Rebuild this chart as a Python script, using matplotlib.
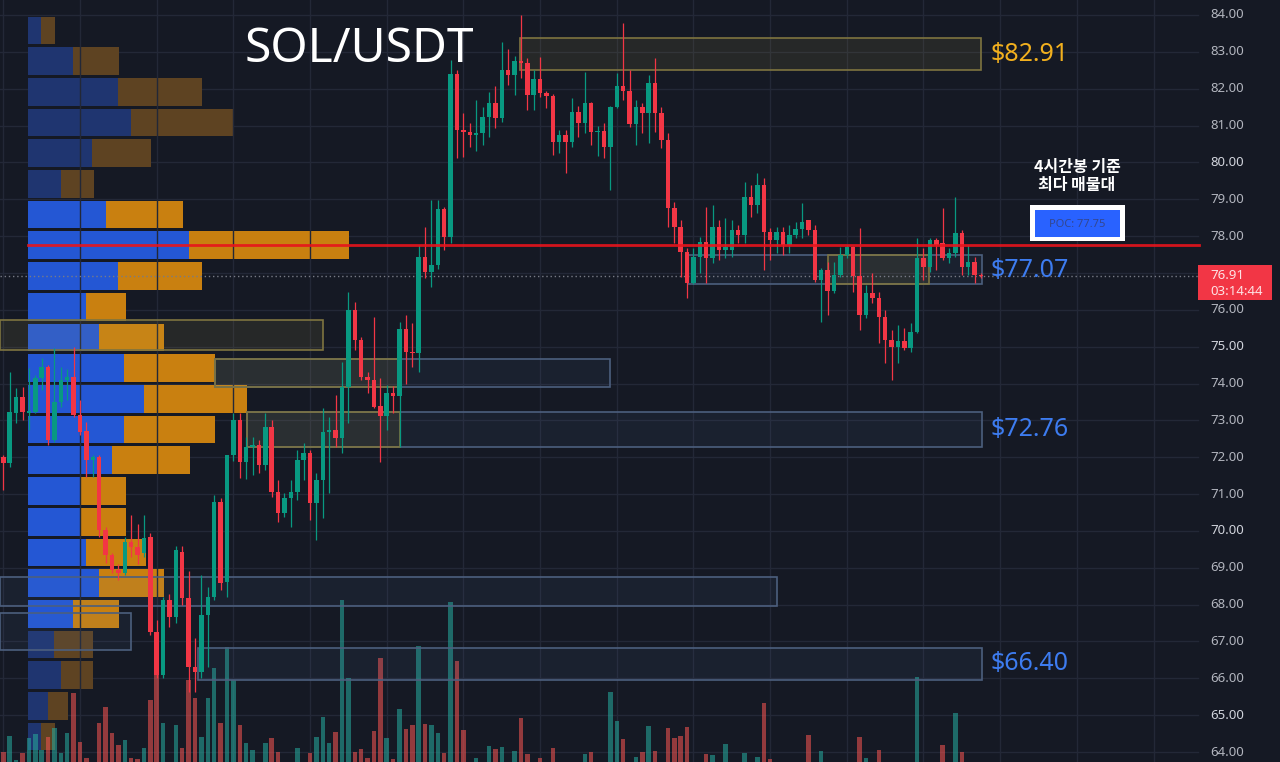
import matplotlib.pyplot as plt
from matplotlib.patches import Rectangle
from matplotlib.transforms import blended_transform_factory

# ---- candles (4h), left to right ----
opens = [72.00, 71.84, 73.20, 73.63, 73.20, 73.23, 74.15, 74.45, 72.47, 73.50,
         74.10, 74.18, 73.15, 72.70, 71.92, 72.00, 70.02, 69.35, 68.94, 68.86,
         69.70, 69.56, 69.40, 69.83, 67.26, 66.09, 68.13, 67.66, 69.43, 68.18,
         66.30, 66.17, 67.72, 68.20, 70.78, 68.60, 72.06, 73.00, 71.87, 72.28,
         72.33, 71.79, 72.82, 71.06, 70.49, 70.90, 71.05, 71.92, 72.11, 70.76,
         71.38, 72.68, 72.75, 72.52, 73.90, 76.00, 75.18, 74.18, 74.10, 73.38,
         73.12, 73.74, 73.65, 75.48, 74.85, 74.82, 77.43, 77.03, 77.22, 78.74,
         77.98, 82.40, 80.88, 80.82, 80.74, 80.80, 81.23, 81.61, 81.20, 82.50,
         82.37, 82.75, 82.70, 81.83, 82.26, 81.88, 81.80, 80.55, 80.74, 80.55,
         81.37, 81.07, 81.61, 80.82, 80.85, 80.42, 81.50, 82.07, 81.94, 81.04,
         81.50, 81.34, 82.15, 81.34, 80.61, 78.76, 78.25, 77.57, 76.73, 77.43,
         77.84, 77.41, 78.25, 77.62, 77.62, 78.17, 78.03, 79.06, 78.84, 79.39,
         78.11, 77.90, 78.11, 77.76, 78.03, 78.20, 78.43, 78.17, 76.81, 77.08,
         76.51, 76.94, 77.49, 77.70, 76.92, 75.86, 76.46, 76.32, 75.80, 75.18,
         74.99, 75.15, 74.96, 75.40, 77.41, 77.16, 77.90, 77.80, 77.41, 77.54,
         78.08, 77.16, 77.30, 76.94]
highs = [72.06, 74.31, 73.88, 73.90, 74.42, 74.23, 74.69, 74.50, 74.96, 74.45,
         74.40, 75.00, 73.55, 72.95, 72.06, 72.06, 70.10, 69.40, 69.10, 69.83,
         70.43, 70.20, 70.43, 69.94, 67.58, 68.20, 68.30, 69.60, 69.60, 68.90,
         67.10, 68.80, 68.48, 70.97, 70.90, 72.06, 73.20, 73.20, 72.55, 72.55,
         72.47, 73.20, 73.00, 71.38, 71.03, 71.38, 72.20, 72.38, 72.20, 71.57,
         73.33, 73.10, 73.69, 74.58, 76.48, 76.20, 75.26, 74.30, 75.80, 74.15,
         73.96, 73.93, 75.67, 75.86, 75.64, 77.75, 78.25, 78.98, 78.98, 78.80,
         82.78, 82.50, 81.34, 81.07, 81.69, 81.50, 81.91, 82.07, 83.27, 83.08,
         82.89, 84.00, 82.83, 82.50, 82.86, 81.95, 81.85, 80.88, 80.88, 81.75,
         81.53, 82.45, 81.64, 81.00, 81.07, 81.53, 82.43, 83.78, 82.50, 81.69,
         81.61, 82.37, 82.83, 81.50, 80.80, 78.93, 78.44, 77.68, 77.68, 77.98,
         78.79, 78.84, 78.44, 78.49, 78.44, 78.30, 79.47, 79.39, 79.71, 79.58,
         78.22, 78.25, 78.25, 78.30, 78.38, 78.90, 78.44, 78.30, 77.13, 77.30,
         77.30, 77.70, 77.76, 77.72, 78.22, 76.67, 77.00, 76.48, 75.99, 75.45,
         75.59, 75.50, 75.64, 77.95, 77.68, 77.95, 77.95, 78.76, 77.68, 79.06,
         78.17, 77.76, 77.43, 77.00]
lows = [71.10, 71.73, 72.93, 73.00, 72.74, 73.20, 73.82, 72.33, 72.40, 73.36,
        73.55, 73.10, 72.60, 71.46, 71.46, 69.83, 69.13, 68.86, 68.67, 68.80,
        69.30, 69.10, 69.30, 67.18, 66.00, 66.00, 67.40, 67.50, 68.00, 65.63,
        65.63, 66.00, 66.30, 68.12, 68.40, 68.20, 71.90, 71.44, 71.40, 71.52,
        71.57, 71.65, 70.92, 70.24, 70.38, 70.10, 70.84, 71.38, 70.30, 69.75,
        70.35, 71.03, 72.28, 72.11, 72.93, 74.90, 74.10, 73.74, 73.33, 71.87,
        72.74, 73.20, 72.28, 74.00, 74.45, 74.30, 76.86, 76.62, 77.10, 77.62,
        77.80, 80.12, 80.15, 80.42, 80.30, 80.47, 80.69, 80.93, 81.10, 82.10,
        81.83, 82.29, 81.42, 81.42, 81.77, 81.47, 80.20, 80.25, 79.71, 80.42,
        80.69, 80.80, 80.47, 80.17, 80.12, 79.25, 81.48, 81.69, 80.96, 80.47,
        80.80, 80.53, 80.82, 80.39, 78.25, 77.81, 76.89, 76.32, 76.70, 77.00,
        76.73, 77.27, 77.35, 77.41, 77.43, 77.81, 77.81, 78.52, 78.63, 77.08,
        77.35, 77.54, 77.49, 77.54, 77.95, 77.95, 78.03, 76.76, 75.67, 75.86,
        76.46, 76.89, 77.41, 76.48, 75.45, 75.78, 76.18, 75.10, 74.56, 74.10,
        74.56, 74.91, 74.85, 75.37, 76.81, 77.03, 77.08, 77.35, 77.27, 77.43,
        76.94, 76.94, 76.73, 76.86]
closes = [71.84, 73.23, 73.63, 73.23, 73.26, 74.15, 74.45, 72.47, 73.50, 74.10,
          74.18, 73.15, 72.68, 71.92, 72.00, 70.02, 69.35, 68.94, 68.86, 69.70,
          69.56, 69.35, 69.80, 67.26, 66.09, 68.13, 67.66, 69.48, 68.18, 66.30,
          66.17, 67.72, 68.20, 70.78, 68.59, 72.06, 73.00, 71.87, 72.28, 72.33,
          71.79, 72.82, 71.06, 70.49, 70.90, 71.05, 71.92, 72.11, 70.76, 71.38,
          72.68, 72.75, 72.52, 73.90, 76.00, 75.18, 74.18, 74.10, 73.36, 73.12,
          73.74, 73.65, 75.48, 74.85, 74.82, 77.43, 77.03, 77.22, 78.74, 77.98,
          82.40, 80.88, 80.82, 80.74, 80.80, 81.23, 81.61, 81.20, 82.50, 82.37,
          82.75, 82.70, 81.83, 82.26, 81.88, 81.80, 80.55, 80.74, 80.55, 81.37,
          81.07, 81.61, 80.82, 80.85, 80.42, 81.50, 82.07, 81.94, 81.04, 81.50,
          81.34, 82.15, 81.34, 80.61, 78.76, 78.25, 77.57, 76.73, 77.43, 77.84,
          77.41, 78.25, 77.62, 77.70, 78.17, 78.03, 79.06, 78.84, 79.39, 78.11,
          77.90, 78.11, 77.76, 78.03, 78.20, 78.38, 78.17, 76.81, 77.08, 76.51,
          76.94, 77.49, 77.70, 76.92, 75.86, 76.46, 76.32, 75.80, 75.18, 74.99,
          75.15, 74.96, 75.40, 77.41, 77.16, 77.90, 77.76, 77.41, 77.54, 78.08,
          77.16, 77.30, 76.94, 76.91]
# volume (arbitrary units, values under 40 fall below the visible area)
volumes = [50, 66, 42, 49, 64, 68, 52, 65, 74, 49,
           69, 109, 60, 44, 30, 79, 95, 69, 57, 62,
           44, 43, 54, 102, 127, 79, 30, 77, 54, 122,
           104, 65, 104, 134, 79, 155, 122, 77, 59, 52,
           30, 59, 64, 50, 30, 38, 54, 38, 49, 65,
           85, 59, 70, 202, 124, 50, 53, 44, 71, 144,
           64, 43, 93, 73, 77, 156, 78, 77, 69, 49,
           200, 141, 72, 30, 44, 40, 56, 53, 55, 40,
           51, 84, 48, 40, 44, 30, 54, 30, 40, 40,
           30, 48, 50, 30, 30, 110, 81, 63, 30, 45,
           50, 76, 51, 30, 74, 64, 66, 75, 40, 30,
           48, 47, 30, 58, 30, 30, 49, 30, 45, 99,
           43, 30, 30, 30, 30, 30, 67, 30, 51, 30,
           30, 30, 30, 30, 65, 44, 30, 52, 30, 30,
           30, 30, 30, 125, 30, 30, 30, 57, 30, 89,
           50, 30, 30, 30]

# ---- volume profile, 24 rows from top (84) down to bottom (64) ----
prof_buy = [13, 45, 90, 103, 64, 33, 78, 161, 90, 58, 71, 96,
            116, 96, 84, 52, 52, 58, 71, 45, 26, 33, 20, 13]
prof_sell = [14, 46, 84, 103, 59, 33, 77, 160, 84, 40, 65, 91,
             103, 91, 78, 46, 46, 60, 65, 46, 39, 32, 20, 14]
value_area = (6, 19)  # rows inside the value area

price_ticks = list(range(64, 85))
poc = 77.75
last_price = 76.91
countdown = '03:14:44'

# zones: (start candle, end candle, low, high, kind)
zones = [(80.9, 153.0, 82.51, 83.38, 'y'),
         (107.2, 153.2, 76.70, 77.49, 'b'),
         (129.1, 144.9, 76.70, 77.49, 'y'),
         (-0.5, 50.1, 74.91, 75.72, 'y'),
         (33.2, 95.0, 73.91, 74.67, 'b'),
         (33.2, 61.7, 73.91, 74.67, 'y'),
         (38.2, 153.1, 72.28, 73.23, 'b'),
         (38.2, 62.1, 72.28, 73.23, 'y'),
         (-0.5, 121.1, 67.96, 68.75, 'b'),
         (-0.5, 20.0, 66.77, 67.77, 'b'),
         (30.4, 153.1, 65.95, 66.82, 'b')]
zone_labels = [('$82.91', 82.94, '#f2b01e'), ('$77.07', 77.08, '#3d7cf0'),
               ('$72.76', 72.76, '#3d7cf0'), ('$66.40', 66.40, '#3d7cf0')]

BG = '#151924'
GRID = '#232837'
UP, DOWN = '#089981', '#f23645'
W, H = 1280, 762
step = 6.39          # px per candle
N = len(closes)
x_last = 981
px_per = 36.85       # px per 1.00 of price
ymin = 64 - (H - 752) / px_per
ymax = 84 + 15 / px_per
i_left = (N - 1) - x_last / step
i_right = (N - 1) + (W - x_last) / step

fig = plt.figure(figsize=(12.8, 7.62), dpi=100, facecolor=BG)

# profile + grid (bottom layer, x in pixels from the profile origin)
ax_p = fig.add_axes([0, 0, 1, 1])
ax_p.set_xlim(-28, W - 28)
ax_p.set_ylim(ymin, ymax)
ax_v = fig.add_axes([0, 0, 1, 1])
ax_v.set_xlim(i_left, i_right)
ax_v.set_ylim(40, 40 + H)
ax = fig.add_axes([0, 0, 1, 1])
ax.set_xlim(i_left, i_right)
ax.set_ylim(ymin, ymax)
for a in (ax_p, ax_v, ax):
    a.set_facecolor('none')
    a.axis('off')

for p in price_ticks:
    ax_p.axhline(p, xmax=1198 / W, color=GRID, lw=1, zorder=0)
for k in range(0, N + 30, 12):
    ax_v.axvline(k, color=GRID, lw=1, zorder=0)

bin_h = 20 / 24
for r in range(24):
    yc = 84 - (r + 0.5) * bin_h
    bright = value_area[0] <= r <= value_area[1]
    cb = '#2457d4' if bright else '#1f3570'
    cs = '#c98010' if bright else '#5e4322'
    ax_p.barh(yc, prof_buy[r], height=bin_h * 0.9, left=0, color=cb, zorder=1)
    ax_p.barh(yc, prof_sell[r], height=bin_h * 0.9, left=prof_buy[r], color=cs, zorder=1)

# volume bars
xs = list(range(N))
vcol = ['#26a69a' if c >= o else '#ef5350' for o, c in zip(opens, closes)]
ax_v.bar(xs, volumes, width=0.7, color=vcol, alpha=0.58, zorder=1)

# zones
for x0, x1, lo, hi, kind in zones:
    if kind == 'y':
        fc, ec = (0.75, 0.68, 0.3, 0.10), '#7e7440'
    else:
        fc, ec = (0.35, 0.5, 0.7, 0.08), '#4c5f7e'
    ax.add_patch(Rectangle((x0, lo), x1 - x0, hi - lo, facecolor=fc,
                           edgecolor=ec, lw=1.2, zorder=2))

# candles
ccol = [UP if c >= o else DOWN for o, c in zip(opens, closes)]
ax.vlines(xs, [min(l, o, c) for l, o, c in zip(lows, opens, closes)],
          [max(h, o, c) for h, o, c in zip(highs, opens, closes)],
          colors=ccol, lw=0.9, zorder=4)
ax.bar(xs, [max(abs(c - o), 0.04) for o, c in zip(opens, closes)], width=0.7,
       bottom=[min(o, c) for o, c in zip(opens, closes)], color=ccol, zorder=5)

# POC line and last price line
ax.axhline(poc, xmin=28 / W, xmax=1199 / W, color='#e8141c', lw=2, alpha=0.9, zorder=6)
ax.axhline(last_price, xmax=1198 / W, color='#787b86', lw=1, ls=(0, (1, 2)), zorder=3)

# right price scale
tr = blended_transform_factory(ax.transAxes, ax.transData)
for p in price_ticks:
    if p == 77:
        continue
    bold = p % 5 == 0
    ax.text(1210 / W, p, f'{p:.2f}', transform=tr, va='center', ha='left',
            fontsize=9.5, family='Noto Sans', color='#d1d4dc' if bold else '#b2b5be',
            fontweight='bold' if bold else 'normal')
ax.add_patch(Rectangle((1198 / W, 76.27), 74 / W, 0.95, transform=tr,
                       facecolor='#f23645', edgecolor='none', zorder=7))
ax.text(1210 / W, 76.93, f'{last_price:.2f}', transform=tr, va='center', ha='left',
        fontsize=9.5, family='Noto Sans', color='#fde3e5', zorder=8)
ax.text(1210 / W, 76.50, countdown, transform=tr, va='center', ha='left',
        fontsize=9.5, family='Noto Sans', color='#fde3e5', zorder=8)

# zone price labels
for txt, p, col in zone_labels:
    ax.text(990 / W, p, txt, transform=tr, va='center', ha='left',
            fontsize=18, family='Noto Sans', color=col, zorder=8)

# title
fig.text(245 / W, 1 - 50 / H, 'SOL/USDT', fontsize=34.5, family='Noto Sans',
         color='white', va='center', ha='left')

# annotation and POC badge
fig.text(1077 / W, 1 - 176 / H, '4시간봉 기준\n최다 매물대', ha='center', va='center',
         fontsize=11.5, color='white', fontweight='bold', linespacing=1.1,
         family=['Noto Sans CJK KR', 'DejaVu Sans'])
fig.patches.append(Rectangle((1030 / W, 1 - 241 / H), 95 / W, 36 / H,
                             transform=fig.transFigure, facecolor='white',
                             edgecolor='none', zorder=9))
fig.patches.append(Rectangle((1035 / W, 1 - 237 / H), 85 / W, 27 / H,
                             transform=fig.transFigure, facecolor='#2962ff',
                             edgecolor='none', zorder=10))
fig.text(1077 / W, 1 - 225 / H, f'POC: {poc:.2f}', ha='center', va='center',
         fontsize=8, color='#34478f', family='Noto Sans', zorder=11)

fig.savefig('out.png', dpi=100, facecolor=BG)
